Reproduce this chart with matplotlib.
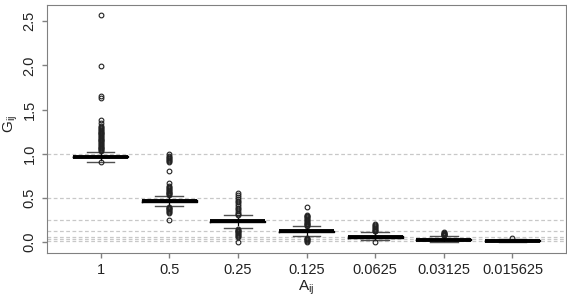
import matplotlib.pyplot as plt

plt.rcParams['font.family'] = ['Liberation Sans', 'DejaVu Sans']

# categories (A_ij) and box statistics for G_ij
labels = ['1', '0.5', '0.25', '0.125', '0.0625', '0.03125', '0.015625']
ref_lines = [1, 0.5, 0.25, 0.125, 0.0625, 0.03125, 0.015625]

medians = [0.968, 0.465, 0.234, 0.121, 0.058, 0.028, 0.013]
q1s = [0.958, 0.458, 0.227, 0.115, 0.051, 0.021, 0.008]
q3s = [0.978, 0.472, 0.241, 0.128, 0.066, 0.035, 0.018]
whislo = [0.909, 0.408, 0.160, 0.065, 0.020, 0.000, -0.002]
whishi = [1.021, 0.527, 0.309, 0.178, 0.115, 0.070, 0.038]

fliers1 = [0.905, 1.03, 1.04, 1.05, 1.06, 1.07, 1.08, 1.09, 1.10, 1.11, 1.12,
           1.13, 1.14, 1.15, 1.16, 1.17, 1.18, 1.19, 1.20, 1.21, 1.22, 1.23,
           1.24, 1.25, 1.26, 1.27, 1.28, 1.29, 1.30, 1.31, 1.35, 1.38, 1.63,
           1.65, 1.99, 2.57]
fliers2 = [0.253, 0.33, 0.34, 0.35, 0.36, 0.37, 0.38, 0.39, 0.40,
           0.53, 0.54, 0.55, 0.56, 0.57, 0.58, 0.59, 0.60, 0.61, 0.62, 0.64,
           0.67, 0.80, 0.91, 0.92, 0.93, 0.94, 0.95, 0.96, 0.97, 1.0]
fliers3 = [0.006, 0.06, 0.07, 0.08, 0.09, 0.10, 0.11, 0.12, 0.13, 0.14, 0.15,
           0.31, 0.32, 0.33, 0.35, 0.37, 0.39, 0.41, 0.43, 0.45, 0.47, 0.49,
           0.51, 0.53, 0.55]
fliers4 = [0.0, 0.01, 0.02, 0.03, 0.04, 0.05, 0.18, 0.19, 0.20, 0.21, 0.22,
           0.23, 0.24, 0.25, 0.26, 0.27, 0.28, 0.29, 0.30, 0.31, 0.396]
fliers5 = [0.0, 0.12, 0.13, 0.14, 0.15, 0.16, 0.17, 0.18, 0.19, 0.20]
fliers6 = [0.075, 0.08, 0.085, 0.09, 0.095, 0.10, 0.105, 0.11]
fliers7 = [0.047]
fliers = [fliers1, fliers2, fliers3, fliers4, fliers5, fliers6, fliers7]

stats = []
for i in range(len(labels)):
    stats.append({'med': medians[i], 'q1': q1s[i], 'q3': q3s[i],
                  'whislo': whislo[i], 'whishi': whishi[i],
                  'fliers': fliers[i], 'label': labels[i]})

fig = plt.figure(figsize=(5.67, 2.99), dpi=100)
ax = fig.add_axes([47 / 567, 46 / 299, 519 / 567, 248 / 299])

for v in ref_lines:
    ax.axhline(v, color='#c8c8c8', lw=0.9, ls=(0, (3, 2)), zorder=0)

ax.bxp(stats, positions=range(1, 8), widths=0.8, showfliers=True,
       boxprops=dict(color='black', lw=1),
       medianprops=dict(color='black', lw=2.8),
       whiskerprops=dict(color='black', lw=0.9, ls=(0, (3, 2))),
       capprops=dict(color='#505050', lw=1),
       capwidths=0.4,
       flierprops=dict(marker='o', markersize=3.4, markerfacecolor='none',
                       markeredgecolor='#222222', markeredgewidth=0.8))

ax.set_xlim(0.22, 7.78)
ax.set_ylim(-0.124, 2.684)
ax.set_yticks([0, 0.5, 1.0, 1.5, 2.0, 2.5])
ax.set_yticklabels(['0.0', '0.5', '1.0', '1.5', '2.0', '2.5'])
for t in ax.get_yticklabels():
    t.set_rotation(90)
    t.set_rotation_mode('anchor')
    t.set_ha('center')
    t.set_va('baseline')
ax.set_xticks(range(1, 8))
ax.set_xticklabels(labels)

for s in ax.spines.values():
    s.set_color('#808080')
ax.tick_params(colors='#808080', labelcolor='#222222', labelsize=10.5,
               length=3.6, width=1)
ax.tick_params(axis='y', pad=6)
ax.tick_params(axis='x', pad=3.5)

ax.set_xlabel('A$_{\\mathregular{ij}}$', fontsize=11, color='#222222', labelpad=1)
ax.set_ylabel('G$_{\\mathregular{ij}}$', fontsize=11, color='#222222')
ax.yaxis.set_label_coords(-27 / 519, 0.52)

fig.savefig('out.png', dpi=100)
